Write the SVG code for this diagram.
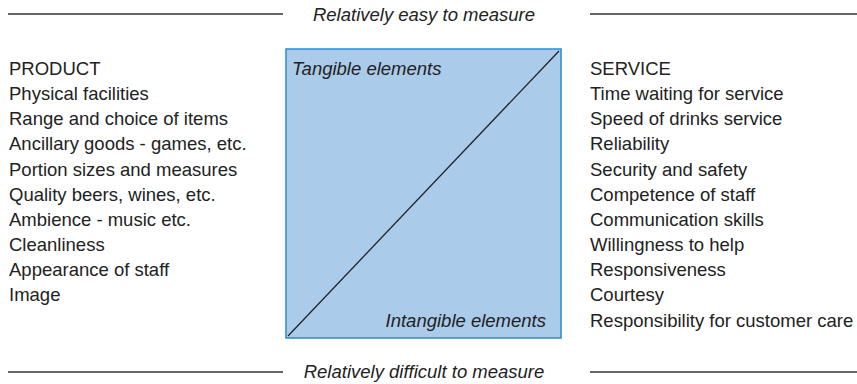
<svg xmlns="http://www.w3.org/2000/svg" width="857" height="384" viewBox="0 0 857 384">
<style>
.t{font-family:"Liberation Sans",Arial,sans-serif;font-size:18.5px;fill:#222}
.i{font-style:italic}
.rule{stroke:#333;stroke-width:1.4;fill:none}
</style>
<rect width="857" height="384" fill="#fff"/>
<g id="connectors">
<line class="rule" x1="8" y1="14" x2="283" y2="14"/>
<line class="rule" x1="590" y1="14" x2="857" y2="14"/>
<line class="rule" x1="8" y1="372" x2="283" y2="372"/>
<line class="rule" x1="590" y1="372" x2="857" y2="372"/>
</g>
<g id="easy"><text class="t i" x="424" y="21" text-anchor="middle">Relatively easy to measure</text></g>
<g id="difficult"><text class="t i" x="424" y="378" text-anchor="middle">Relatively difficult to measure</text></g>
<g id="box">
<rect x="286" y="49" width="275" height="289" fill="#abcbea" stroke="#2a8ad0" stroke-width="1.5"/>
<line x1="288" y1="336" x2="559" y2="51" stroke="#222" stroke-width="1.3"/>
<text class="t i" x="292" y="75">Tangible elements</text>
<text class="t i" x="546" y="327" text-anchor="end">Intangible elements</text>
</g>
<g id="product">
<text class="t" x="9" y="75">PRODUCT</text>
<text class="t" x="9" y="100.15">Physical facilities</text>
<text class="t" x="9" y="125.3">Range and choice of items</text>
<text class="t" x="9" y="150.45">Ancillary goods - games, etc.</text>
<text class="t" x="9" y="175.6">Portion sizes and measures</text>
<text class="t" x="9" y="200.75">Quality beers, wines, etc.</text>
<text class="t" x="9" y="225.9">Ambience - music etc.</text>
<text class="t" x="9" y="251.05">Cleanliness</text>
<text class="t" x="9" y="276.2">Appearance of staff</text>
<text class="t" x="9" y="301.35">Image</text>
</g>
<g id="service">
<text class="t" x="590" y="75">SERVICE</text>
<text class="t" x="590" y="100.15">Time waiting for service</text>
<text class="t" x="590" y="125.3">Speed of drinks service</text>
<text class="t" x="590" y="150.45">Reliability</text>
<text class="t" x="590" y="175.6">Security and safety</text>
<text class="t" x="590" y="200.75">Competence of staff</text>
<text class="t" x="590" y="225.9">Communication skills</text>
<text class="t" x="590" y="251.05">Willingness to help</text>
<text class="t" x="590" y="276.2">Responsiveness</text>
<text class="t" x="590" y="301.35">Courtesy</text>
<text class="t" x="590" y="326.5">Responsibility for customer care</text>
</g>
</svg>
